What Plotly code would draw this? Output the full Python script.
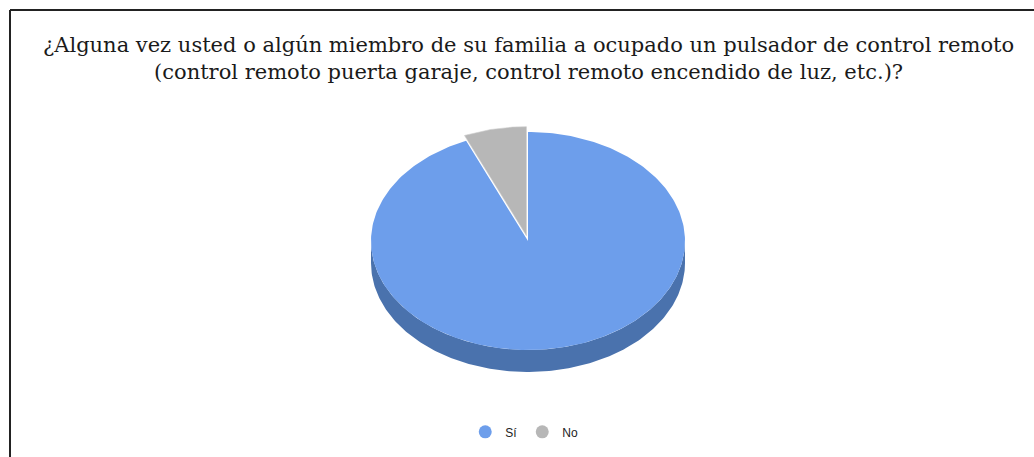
import numpy as np
import plotly.graph_objects as go

labels = ["Sí", "No"]
values = [29, 2]
colors_top = ["#6d9eeb", "#b7b7b7"]
colors_side = ["#4a72ad", "#8f8f8f"]
title_lines = [
    "¿Alguna vez usted o algún miembro de su familia a ocupado un pulsador de control remoto",
    "(control remoto puerta garaje, control remoto encendido de luz, etc.)?",
]

W, H = 1034, 457
cx, cy, rx, ry, depth = 528, 241, 157, 109, 22
explode = [0.0, 0.05]

fig = go.Figure()

total = sum(values)
fracs = [v / total for v in values]
starts = np.cumsum([0] + fracs[:-1]) * 360
ends = np.cumsum(fracs) * 360


def pt(theta_deg, ox=0.0, oy=0.0, dy=0.0):
    t = np.radians(theta_deg)
    return cx + ox + rx * np.sin(t), cy + oy - ry * np.cos(t) + dy


# side walls (only front visible part, 90..270 deg)
for i in range(len(values)):
    a0, a1 = max(starts[i], 90), min(ends[i], 270)
    if a1 <= a0:
        continue
    mid = np.radians((starts[i] + ends[i]) / 2)
    ox = explode[i] * rx * np.sin(mid)
    oy = -explode[i] * ry * np.cos(mid)
    th = np.linspace(a0, a1, 200)
    xs_top, ys_top = pt(th, ox, oy)
    xs_bot, ys_bot = pt(th[::-1], ox, oy, depth)
    xs = np.concatenate([xs_top, xs_bot, xs_top[:1]])
    ys = np.concatenate([ys_top, ys_bot, ys_top[:1]])
    fig.add_trace(go.Scatter(x=xs, y=ys, mode="lines", fill="toself",
                             fillcolor=colors_side[i], line=dict(width=0, color=colors_side[i]),
                             hoverinfo="skip", showlegend=False))

# top faces
for i in range(len(values)):
    mid = np.radians((starts[i] + ends[i]) / 2)
    ox = explode[i] * rx * np.sin(mid)
    oy = -explode[i] * ry * np.cos(mid)
    th = np.linspace(starts[i], ends[i], 300)
    xe, ye = pt(th, ox, oy)
    xs = np.concatenate([[cx + ox], xe, [cx + ox]])
    ys = np.concatenate([[cy + oy], ye, [cy + oy]])
    fig.add_trace(go.Scatter(x=xs, y=ys, mode="lines", fill="toself",
                             fillcolor=colors_top[i],
                             line=dict(width=0.6 if i else 0, color="#cfcfcf" if i else colors_top[i]),
                             name=labels[i], hoverinfo="skip", showlegend=False))

# legend entries
for i in range(len(values)):
    fig.add_trace(go.Scatter(x=[None], y=[None], mode="markers", name=labels[i],
                             marker=dict(symbol="circle", size=13, color=colors_top[i])))

fig.add_annotation(text="<br>".join(title_lines), x=528, y=58, xref="x", yref="y",
                   showarrow=False, xanchor="center", yanchor="middle",
                   font=dict(family="DejaVu Serif", size=21, color="#1a1a1a"))

fig.update_layout(
    width=W, height=H,
    margin=dict(l=0, r=0, t=0, b=0),
    paper_bgcolor="white", plot_bgcolor="white",
    xaxis=dict(range=[0, W], visible=False, fixedrange=True),
    yaxis=dict(range=[H, 0], visible=False, fixedrange=True),
    showlegend=True,
    legend=dict(orientation="h", x=0.507, xanchor="center", y=0.055, yanchor="middle",
                font=dict(family="Liberation Sans", size=12, color="#222"),
                itemwidth=30, tracegroupgap=0),
    shapes=[
        dict(type="line", xref="paper", yref="paper", x0=10 / W, x1=1, y0=1 - 10 / H, y1=1 - 10 / H,
             line=dict(color="#222", width=2)),
        dict(type="line", xref="paper", yref="paper", x0=10 / W, x1=10 / W, y0=0, y1=1 - 10 / H,
             line=dict(color="#222", width=2)),
    ],
)

fig.write_html("out.html")
